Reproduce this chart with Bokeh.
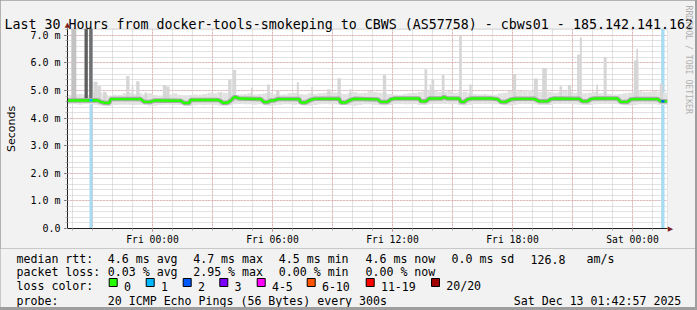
import math
from datetime import datetime
import numpy as np
from bokeh.plotting import figure
from bokeh.layouts import column
from bokeh.models import (Label, SingleIntervalTicker, DatetimeTickFormatter, Range1d)
from bokeh.core.properties import value
from bokeh.embed import file_html
from bokeh.resources import INLINE

EPOCH = datetime(1970, 1, 1)
MIN = 60000.0


def T(s):
    d, hm = s.split()
    h, m = hm.split(":")
    return (datetime(2025, 12, int(d), int(h), int(m)) - EPOCH).total_seconds() * 1000.0


# ---------------- data ----------------
title = "Last 30 Hours from docker-tools-smokeping to CBWS (AS57758) - cbws01 - 185.142.141.162"
range_start = "11 19:45"
range_end = "13 01:45"
y_max = 7.25
y_tick_values = [0, 1, 2, 3, 4, 5, 6, 7]
y_tick_labels = ["0.0", "1.0 m", "2.0 m", "3.0 m", "4.0 m", "5.0 m", "6.0 m", "7.0 m"]

median_time = [
    "11 19:45", "11 21:15", "11 21:25", "11 21:35", "11 21:50", "11 21:55", "11 23:25", "11 23:35",
    "11 23:55", "12 00:05", "12 01:25", "12 01:35", "12 01:50", "12 01:55", "12 03:15", "12 03:25",
    "12 03:30", "12 03:45", "12 03:55", "12 04:05", "12 04:10", "12 04:20", "12 05:25", "12 05:35",
    "12 05:45", "12 05:55", "12 06:05", "12 06:15", "12 07:20", "12 07:25", "12 07:40", "12 07:50",
    "12 08:05", "12 09:20", "12 09:25", "12 09:40", "12 09:50", "12 10:05", "12 11:15", "12 11:25",
    "12 11:45", "12 11:55", "12 12:05", "12 13:20", "12 13:25", "12 13:40", "12 13:50", "12 14:25",
    "12 14:35", "12 14:45", "12 15:20", "12 15:25", "12 15:35", "12 15:45", "12 15:55", "12 16:55",
    "12 17:15", "12 17:25", "12 17:40", "12 17:55", "12 18:10", "12 19:05", "12 19:20", "12 19:45",
    "12 19:55", "12 20:05", "12 21:20", "12 21:30", "12 21:45", "12 21:55", "12 22:05", "12 23:15",
    "12 23:25", "12 23:45", "12 23:55", "13 00:05", "13 01:15", "13 01:25", "13 01:45"]
median_ms = [
    4.64, 4.65, 4.59, 4.56, 4.55, 4.69, 4.69, 4.59,
    4.59, 4.64, 4.63, 4.55, 4.55, 4.66, 4.66, 4.62,
    4.56, 4.56, 4.64, 4.76, 4.76, 4.71, 4.69, 4.58,
    4.58, 4.64, 4.64, 4.69, 4.69, 4.57, 4.57, 4.64,
    4.70, 4.70, 4.57, 4.57, 4.64, 4.70, 4.68, 4.59,
    4.59, 4.68, 4.71, 4.71, 4.61, 4.61, 4.71, 4.71,
    4.76, 4.71, 4.71, 4.59, 4.59, 4.68, 4.71, 4.71,
    4.69, 4.59, 4.59, 4.68, 4.70, 4.70, 4.61, 4.61,
    4.69, 4.71, 4.70, 4.61, 4.61, 4.69, 4.71, 4.71,
    4.59, 4.59, 4.68, 4.69, 4.69, 4.61, 4.61]

# smoke band, 15-minute columns starting at range_start
smoke_step_min = 15
smoke_hi = [
    4.84, 4.86, 4.88, 4.85, 4.85, 4.95, 4.92, 4.88, 4.82, 4.85, 4.84, 4.90,
    4.92, 4.88, 4.90, 4.86, 4.90, 4.84, 4.82, 4.85, 4.86, 4.90, 4.84, 4.83,
    4.84, 4.86, 4.85, 4.88, 4.92, 4.90, 4.95, 4.92, 4.90, 4.85, 4.86, 4.88,
    4.90, 4.86, 4.88, 4.90, 4.93, 4.88, 4.85, 4.86, 4.90, 4.92, 4.88, 4.86,
    4.90, 4.88, 4.90, 4.92, 4.95, 4.93, 4.90, 4.88, 4.92, 4.95, 4.90, 4.92,
    4.98, 4.95, 4.92, 4.90, 4.88, 4.86, 4.85, 4.88, 4.90, 4.92, 4.95, 4.98,
    5.00, 4.98, 4.95, 4.96, 4.98, 4.92, 4.95, 4.96, 4.90, 4.88, 4.86, 4.88,
    4.86, 4.85, 4.90, 4.92, 4.98, 4.95, 4.98, 5.00, 5.02, 4.98, 4.95, 4.98,
    4.95, 4.92, 4.95, 4.98, 4.95, 4.92, 4.95, 4.90, 4.92, 4.95, 4.90, 4.90,
    4.88, 4.86, 4.88, 4.90, 4.92, 4.95, 4.98, 4.95, 4.96, 4.98, 4.95, 4.92]
smoke_lo = [
    4.50, 4.50, 4.49, 4.50, 4.50, 4.49, 4.46, 4.44, 4.44, 4.48, 4.49, 4.49,
    4.49, 4.48, 4.49, 4.48, 4.45, 4.45, 4.48, 4.49, 4.49, 4.48, 4.48, 4.45,
    4.44, 4.47, 4.49, 4.48, 4.49, 4.48, 4.45, 4.44, 4.46, 4.50, 4.51, 4.50,
    4.50, 4.49, 4.50, 4.47, 4.45, 4.47, 4.49, 4.50, 4.50, 4.49, 4.50, 4.46,
    4.45, 4.48, 4.50, 4.51, 4.50, 4.50, 4.49, 4.50, 4.46, 4.45, 4.48, 4.50,
    4.50, 4.49, 4.47, 4.46, 4.48, 4.50, 4.51, 4.50, 4.50, 4.51, 4.48, 4.48,
    4.50, 4.51, 4.51, 4.51, 4.50, 4.51, 4.47, 4.46, 4.49, 4.51, 4.51, 4.51,
    4.51, 4.50, 4.50, 4.47, 4.46, 4.49, 4.51, 4.51, 4.51, 4.50, 4.48, 4.48,
    4.48, 4.51, 4.51, 4.51, 4.51, 4.50, 4.49, 4.48, 4.48, 4.50, 4.51, 4.51,
    4.51, 4.51, 4.50, 4.47, 4.46, 4.48, 4.50, 4.50, 4.50, 4.50, 4.49, 4.48]

spike_time = [
    "11 21:09", "11 21:20", "11 21:37", "11 22:46", "11 23:00", "11 23:16", "11 23:40",
    "12 00:36", "12 00:46", "12 03:24", "12 03:52", "12 04:06", "12 04:58", "12 05:48",
    "12 06:16", "12 07:16", "12 07:59", "12 08:49", "12 09:20", "12 09:54", "12 11:36",
    "12 13:40", "12 13:54", "12 14:01", "12 14:32", "12 15:24", "12 15:54", "12 18:06",
    "12 19:10", "12 19:36", "12 20:25", "12 20:51", "12 21:18", "12 21:25", "12 22:14",
    "12 22:38", "13 00:11", "13 00:14", "13 01:27"]
spike_top = [
    5.32, 5.17, 4.96, 5.53, 5.13, 5.34, 4.93,
    5.20, 5.15, 4.92, 5.40, 5.75, 5.10, 5.22,
    4.98, 5.30, 5.13, 5.05, 5.45, 5.05, 5.56,
    5.77, 5.22, 5.40, 5.56, 6.98, 5.22, 5.60,
    5.44, 5.82, 5.16, 5.20, 6.31, 6.92, 5.22,
    6.22, 6.09, 6.52, 5.26]
spike_minutes = [
    12, 10, 10, 10, 5, 10, 8,
    10, 10, 5, 10, 10, 5, 8,
    10, 6, 5, 10, 10, 6, 10,
    8, 5, 8, 8, 8, 7, 10,
    12, 14, 8, 10, 8, 6, 5,
    9, 14, 5, 10]

# heavy smoke at the start (goes off the top of the chart)
heavy_time = ["11 20:04", "11 20:41", "11 20:55"]
heavy_top = [7.6, 7.6, 7.6]
heavy_minutes = [15, 10, 10]

loss_start = ["11 20:51", "13 01:26"]
loss_end = ["11 21:00", "13 01:36"]
loss_count = [1, 2]

rtt_stats = [4.6, 4.7, 4.5, 4.6, 0.0]
am_per_s = 126.8
loss_stats = [0.03, 2.95, 0.00, 0.00]
loss_labels = ["0", "1", "2", "3", "4-5", "6-10", "11-19", "20/20"]
probe_text = "20 ICMP Echo Pings (56 Bytes) every 300s"
stamp_text = "Sat Dec 13 01:42:57 2025"

# ---------------- styles ----------------
loss_colors = ["#26ff00", "#00b8ff", "#0059ff", "#7e00ff", "#ff00ff", "#ff5500", "#ff0000", "#a10000"]
loss_bg_color = "#a8dcf2"
heavy_colors = ["#c2c2c2", "#5e5e5e", "#707070"]
MONO = "DejaVu Sans Mono"
BG = "#f2f2f2"
ARROW = "#801f1f"

t0 = T(range_start)
t1 = T(range_end)
W, H = 695, 248          # main figure canvas
L, R, TOP, BOT = 67, 667, 28, 228


def X(px):
    return t0 + (px - L) / (R - L) * (t1 - t0)


def Y(py):
    return (BOT - py) / (BOT - TOP) * y_max


p = figure(width=W, height=H, x_axis_type="datetime", output_backend="svg",
           toolbar_location=None, x_range=Range1d(t0, t1), y_range=Range1d(0, y_max),
           min_border_left=L, min_border_right=W - R, min_border_top=TOP,
           min_border_bottom=H - BOT)
p.frame_align = False
p.background_fill_color = "white"
p.border_fill_color = BG
p.outline_line_color = None

# grids
p.xgrid.ticker = SingleIntervalTicker(interval=3 * 3600 * 1000, num_minor_ticks=3)
for g in (p.xgrid[0], p.ygrid[0]):
    g.grid_line_color = "#e99393"
    g.grid_line_dash = "1 2"
    g.minor_grid_line_color = "#c4c4c4"
    g.minor_grid_line_dash = "1 1"

# axes
xa = p.xaxis[0]
xa.ticker = SingleIntervalTicker(interval=6 * 3600 * 1000, num_minor_ticks=6)
fmt = "%a %H:%M"
xa.formatter = DatetimeTickFormatter(hours=fmt, hourmin=fmt, days=fmt, minutes=fmt, minsec=fmt)
ya = p.yaxis[0]
ya.ticker = SingleIntervalTicker(interval=1, num_minor_ticks=5)
ya.major_label_overrides = {v: s for v, s in zip(y_tick_values, y_tick_labels)}
for a in (xa, ya):
    a.axis_line_color = "#1f1f1f"
    a.major_tick_in = 0
    a.major_tick_out = 3
    a.minor_tick_in = 0
    a.minor_tick_out = 2
    a.minor_tick_line_color = "#b0b0b0"
    a.major_label_text_font = MONO
    a.major_label_text_color = "black"
xa.major_tick_line_color = "#d06060"
ya.major_tick_line_color = "#1f1f1f"
xa.major_label_text_font_size = "9.7px"
ya.major_label_text_font_size = "10px"
xa.major_label_standoff = 2
ya.major_label_standoff = 4

# loss background
ls = [T(s) for s in loss_start]
le = [T(s) for s in loss_end]
p.vbar(x=[(a + b) / 2 for a, b in zip(ls, le)], width=[b - a for a, b in zip(ls, le)],
       bottom=0, top=y_max, fill_color=loss_bg_color, line_color=None)

# smoke band
band_x = [t0 + (k + 0.5) * smoke_step_min * MIN for k in range(len(smoke_hi))]
p.vbar(x=band_x, width=smoke_step_min * MIN, bottom=smoke_lo, top=smoke_hi,
       fill_color="#e2e2e2", line_color=None)

# spikes
p.vbar(x=[T(s) for s in spike_time], width=[m * MIN for m in spike_minutes],
       bottom=4.6, top=spike_top, fill_color="#d6d6d6", line_color=None)
p.vbar(x=[T(s) for s in heavy_time], width=[m * MIN for m in heavy_minutes],
       bottom=4.6, top=heavy_top, fill_color=heavy_colors, line_color=None)

# median
mx = [T(s) for s in median_time]
p.line(mx, median_ms, line_color="#a8a8a8", line_width=4.5)
p.line(mx, median_ms, line_color=loss_colors[0], line_width=2.4)
for a, b, c in zip(ls, le, loss_count):
    seg_x = [a, b]
    seg_y = list(np.interp(seg_x, mx, median_ms))
    p.line(seg_x, seg_y, line_color=loss_colors[c], line_width=2.4)


# texts around the frame (placed in side panels so they are not clipped)
def side_label(place, px, py, text, size, **kw):
    p.add_layout(Label(x=X(px), y=Y(py), text=text, text_font=kw.pop("font", MONO),
                       text_font_size=size, text_color=kw.pop("color", "black"),
                       text_baseline=kw.pop("baseline", "alphabetic"),
                       text_align=kw.pop("align", "left"), **kw), place)


side_label("above", 4, 24, title, "13.3px")
side_label("above", 67, 24.5, "\u25b2", "7px", font="DejaVu Sans", color=ARROW,
           align="center", baseline="middle")
side_label("left", 11, 128.5, "Seconds", "11px", font="DejaVu Sans", angle=math.pi / 2,
           align="center", baseline="middle")
side_label("right", 688, 5, "RRDTOOL / TOBI OETIKER", "8.2px", color="#b0b0b0",
           angle=-math.pi / 2, baseline="middle")
side_label("right", 670, 228, "\u25b6", "7px", font="DejaVu Sans", color=ARROW,
           align="center", baseline="middle")

# ---------------- legend block (second figure below) ----------------
LH = 307 - H
q = figure(width=W, height=LH, output_backend="svg", toolbar_location=None,
           x_range=Range1d(0, W), y_range=Range1d(LH, 0),
           x_axis_location=None, y_axis_location=None, min_border=0)
q.frame_align = False
q.xgrid.visible = False
q.ygrid.visible = False
q.background_fill_color = BG
q.border_fill_color = BG
q.outline_line_color = None

rows = [258.5 - H, 271.7 - H, 285.7 - H, 300 - H]
cols = [107.3, 192.7, 278.3, 365, 451]
tx, ty, tt = [], [], []


def put(x, y, s):
    tx.append(x)
    ty.append(y)
    tt.append(s)


put(16, rows[0], "median rtt:")
for x, v, w in zip(cols, rtt_stats, ["avg", "max", "min", "now", "sd"]):
    put(x, rows[0], f"{v:.1f} ms {w}")
put(530, rows[0], f"{am_per_s:.1f}")
put(586, rows[0], "am/s")
put(16, rows[1], "packet loss:")
for x, v, w in zip(cols, loss_stats, ["avg", "max", "min", "now"]):
    put(x, rows[1], f"{v:.2f} % {w}")
put(16, rows[2], "loss color:")
sw_x = [108.7, 145.7, 182.7, 219.3, 256.7, 306.7, 365.7, 431]
for x, t in zip(sw_x, loss_labels):
    put(x + 14.7, rows[2], t)
put(16, rows[3], "probe:")
put(107.3, rows[3], probe_text)
put(513.3, rows[3], stamp_text)

q.text(x=tx, y=ty, text=tt, text_font=value(MONO), text_font_size=value("11.6px"),
       text_baseline="alphabetic", text_align="left", text_color="black")
q.quad(left=sw_x, right=[x + 8 for x in sw_x], top=[278 - H] * len(sw_x),
       bottom=[286 - H] * len(sw_x), fill_color=loss_colors, line_color="black", line_width=1)

layout = column(p, q, spacing=0, width=697, height=310,
                styles={"background-color": "#9e9e9e"})

open("out.html", "w").write(file_html(layout, INLINE))
